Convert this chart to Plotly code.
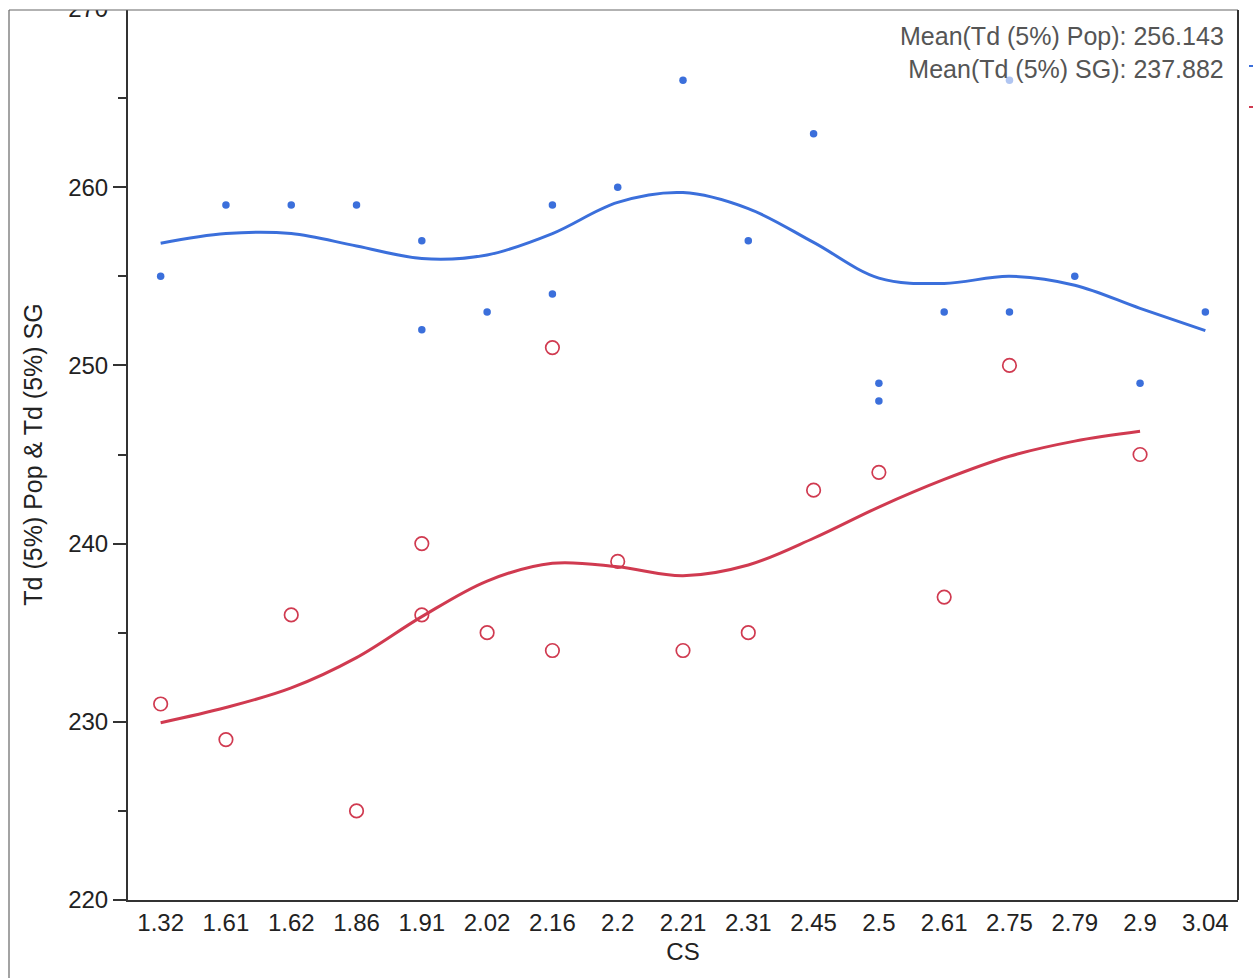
import plotly.graph_objects as go

# CS categories on the x axis
cs_labels = ["1.32", "1.61", "1.62", "1.86", "1.91", "2.02", "2.16", "2.2", "2.21",
             "2.31", "2.45", "2.5", "2.61", "2.75", "2.79", "2.9", "3.04"]

# Td (5%) Pop points
pop_cs = ["1.32", "1.61", "1.62", "1.86", "1.91", "1.91", "2.02", "2.16", "2.16", "2.2",
          "2.21", "2.31", "2.45", "2.5", "2.5", "2.61", "2.75", "2.75", "2.79", "2.9", "3.04"]
pop_td = [255, 259, 259, 259, 257, 252, 253, 259, 254, 260,
          266, 257, 263, 249, 248, 253, 266, 253, 255, 249, 253]

# Td (5%) SG points
sg_cs = ["1.32", "1.61", "1.62", "1.86", "1.91", "1.91", "2.02", "2.16", "2.16", "2.2",
         "2.21", "2.31", "2.45", "2.5", "2.61", "2.75", "2.9"]
sg_td = [231, 229, 236, 225, 240, 236, 235, 251, 234, 239,
         234, 235, 243, 244, 237, 250, 245]

# smoother curves
pop_smooth = [256.86, 257.4, 257.4, 256.7, 256.0, 256.2, 257.4, 259.15, 259.7,
              258.8, 256.9, 254.9, 254.6, 255.0, 254.5, 253.2, 251.95]
sg_smooth = [229.95, 230.8, 231.9, 233.6, 235.9, 237.9, 238.9, 238.7, 238.2,
             238.8, 240.3, 242.05, 243.6, 244.9, 245.75, 246.3]

pop_mean = 256.143
sg_mean = 237.882

BLUE = "#3b6fdb"
RED = "#d03a50"
FONT = "Liberation Sans, Arial, Helvetica, sans-serif"
FS = 24

W, H = 1253, 978
ml, mr, mt, mb = 128, 15, 9, 78
pw = W - ml - mr
ph = H - mt - mb


def px_x(p):
    return (p - ml) / pw


def px_y(p):
    return 1 - (p - mt) / ph


fig = go.Figure()

fig.add_trace(go.Scatter(x=cs_labels, y=pop_smooth, mode="lines",
                         line=dict(color=BLUE, width=3, shape="spline"),
                         showlegend=False, hoverinfo="skip"))
fig.add_trace(go.Scatter(x=cs_labels[:len(sg_smooth)], y=sg_smooth, mode="lines",
                         line=dict(color=RED, width=3, shape="spline"),
                         showlegend=False, hoverinfo="skip"))
fig.add_trace(go.Scatter(x=pop_cs, y=pop_td, mode="markers", name="Td (5%) Pop",
                         marker=dict(color=BLUE, size=7.5, symbol="circle"),
                         showlegend=False))
fig.add_trace(go.Scatter(x=sg_cs, y=sg_td, mode="markers", name="Td (5%) SG",
                         marker=dict(color="rgba(255,255,255,0)", size=13.5, symbol="circle",
                                     line=dict(color=RED, width=1.7)),
                         showlegend=False))

fig.add_annotation(
    xref="paper", yref="paper", x=1, y=1, xanchor="right", yanchor="top",
    xshift=-12, yshift=-11, align="right", showarrow=False,
    text=f"Mean(Td (5%) Pop): {pop_mean:.3f}<br>Mean(Td (5%) SG): {sg_mean:.3f}",
    font=dict(family=FONT, size=25, color="#555555"),
    bgcolor="rgba(255,255,255,0.6)", borderpad=1,
)

shapes = [
    # cover above the frame so the top tick label is clipped like the original
    dict(type="rect", xref="paper", yref="paper", layer="above",
         x0=px_x(0), x1=px_x(W), y0=px_y(10), y1=px_y(-5),
         fillcolor="white", line=dict(width=0)),
    # outer frame
    dict(type="line", xref="paper", yref="paper", layer="above",
         x0=px_x(9), x1=px_x(1238), y0=px_y(10), y1=px_y(10),
         line=dict(color="#666666", width=1.2)),
    dict(type="line", xref="paper", yref="paper", layer="above",
         x0=px_x(9), x1=px_x(9), y0=px_y(10), y1=px_y(H + 5),
         line=dict(color="#666666", width=1.2)),
    dict(type="line", xref="paper", yref="paper", layer="above",
         x0=px_x(1238), x1=px_x(1238), y0=px_y(10), y1=px_y(900),
         line=dict(color="#333333", width=2)),
    # legend fragments cut off at the right edge
    dict(type="line", xref="paper", yref="paper", layer="above",
         x0=px_x(1249), x1=px_x(1256), y0=px_y(66), y1=px_y(66),
         line=dict(color=BLUE, width=2)),
    dict(type="line", xref="paper", yref="paper", layer="above",
         x0=px_x(1249), x1=px_x(1256), y0=px_y(107), y1=px_y(107),
         line=dict(color=RED, width=2)),
]

fig.update_layout(
    width=W, height=H,
    margin=dict(l=ml, r=mr, t=mt, b=mb, pad=0, autoexpand=False),
    paper_bgcolor="white", plot_bgcolor="white",
    font=dict(family=FONT, size=FS, color="#222222"),
    shapes=shapes,
    showlegend=False,
)

fig.update_xaxes(
    type="category", categoryorder="array", categoryarray=cs_labels,
    range=[-0.5, len(cs_labels) - 0.5], automargin=False,
    showline=True, linecolor="#333333", linewidth=2,
    showgrid=False, zeroline=False, ticks="", ticklabelstandoff=0,
    tickfont=dict(size=FS, color="#222222"),
    title=dict(text="CS", font=dict(size=FS, color="#222222"), standoff=8),
)
fig.update_yaxes(
    range=[220, 270], tickvals=[220, 230, 240, 250, 260, 270], automargin=False,
    showline=True, linecolor="#333333", linewidth=2,
    showgrid=False, zeroline=False, ticks="outside", ticklen=13, tickwidth=2,
    tickcolor="#333333", ticklabeloverflow="allow",
    minor=dict(tickvals=[225, 235, 245, 255, 265], ticks="outside", ticklen=8,
               tickwidth=2, tickcolor="#333333", showgrid=False),
    tickfont=dict(size=FS, color="#222222"),
    title=dict(text="Td (5%) Pop & Td (5%) SG", font=dict(size=25, color="#222222"),
               standoff=18),
)

fig.write_html("out.html", config={"displayModeBar": False},
               post_script="document.body.style.margin='0';document.body.style.overflow='hidden';")
